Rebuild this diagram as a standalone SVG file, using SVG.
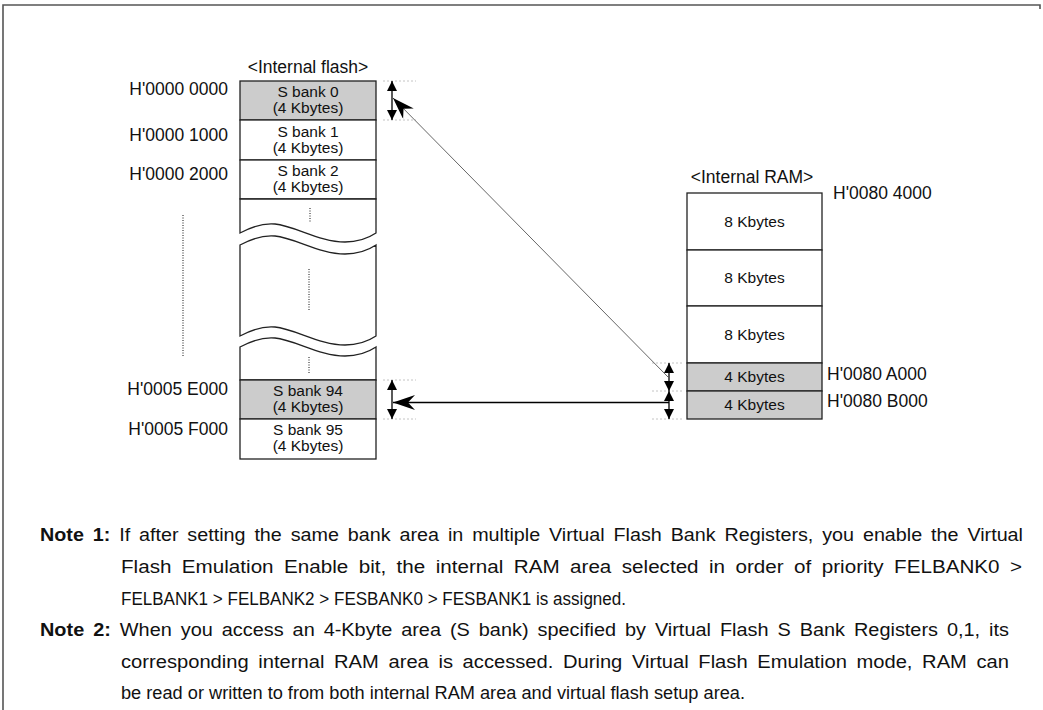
<svg xmlns="http://www.w3.org/2000/svg" width="1043" height="710" viewBox="0 0 1043 710">
<style>
  text { font-family: "Liberation Sans", Arial, sans-serif; fill: #111; }
  .lbl { font-size: 17.5px; }
  .box { font-size: 15.5px; text-anchor: middle; }
  .note { font-size: 17.5px; }
  .b { font-weight: bold; }
  .cell { stroke: #222; stroke-width: 1.3; fill: #fff; }
  .gray { fill: #cccccc; }
  .dots { stroke: #111; stroke-width: 1; stroke-dasharray: 1 1.5; fill: none; }
  .guide { stroke: #c4c4c4; stroke-width: 1; stroke-dasharray: 2 2; fill: none; }
  .dbl { stroke: #000; stroke-width: 1.3; fill: none; marker-start: url(#tri); marker-end: url(#tri); }
</style>
<defs>
  <marker id="tri" viewBox="0 0 10 10" refX="10" refY="5" markerWidth="10" markerHeight="10" markerUnits="userSpaceOnUse" orient="auto-start-reverse">
    <path d="M0,0 L10,5 L0,10 Z" fill="#000"/>
  </marker>
  <marker id="stealth" viewBox="0 0 22 15" refX="22" refY="7.5" markerWidth="22" markerHeight="15" markerUnits="userSpaceOnUse" orient="auto">
    <path d="M22,7.5 L0,0 L7,7.5 L0,15 Z" fill="#000"/>
  </marker>
</defs>

<path d="M3,710 V5 H1040 V9" fill="none" stroke="#555" stroke-width="1.6"/>

<g id="internal-flash">
  <text class="lbl" x="308" y="73" text-anchor="middle">&lt;Internal flash&gt;</text>
  <g id="s-bank-0">
    <rect class="cell gray" x="240" y="81" width="136" height="39"/>
    <text class="box" x="308" y="97">S bank 0</text>
    <text class="box" x="308" y="113">(4 Kbytes)</text>
    <text class="lbl" x="228" y="95" text-anchor="end">H'0000 0000</text>
  </g>
  <g id="s-bank-1">
    <rect class="cell" x="240" y="120" width="136" height="40"/>
    <text class="box" x="308" y="137">S bank 1</text>
    <text class="box" x="308" y="153">(4 Kbytes)</text>
    <text class="lbl" x="228" y="141" text-anchor="end">H'0000 1000</text>
  </g>
  <g id="s-bank-2">
    <rect class="cell" x="240" y="160" width="136" height="39"/>
    <text class="box" x="308" y="176">S bank 2</text>
    <text class="box" x="308" y="192">(4 Kbytes)</text>
    <text class="lbl" x="228" y="180" text-anchor="end">H'0000 2000</text>
  </g>
  <g id="flash-omitted">
    <path class="cell" d="M240,199 H376 V233 C370,237 360,242 345,242 C320,242 295,226 275,224 C265,223 255,225 240,233 Z"/>
    <path class="cell" d="M240,245 C255,237 265,235 275,236 C295,238 320,254 345,254 C360,254 370,249 376,245 V336 C370,340 360,345 345,345 C320,345 295,329 275,327 C265,326 255,328 240,336 Z"/>
    <path class="cell" d="M240,347 C255,339 265,337 275,338 C295,340 320,356 345,356 C360,356 370,351 376,347 V380 H240 Z"/>
    <line class="dots" x1="310" y1="208" x2="310" y2="222"/>
    <line class="dots" x1="309" y1="269" x2="309" y2="311"/>
    <line class="dots" x1="309" y1="357" x2="309" y2="373"/>
    <line class="dots" x1="183" y1="215" x2="183" y2="356"/>
  </g>
  <g id="s-bank-94">
    <rect class="cell gray" x="240" y="380" width="136" height="39"/>
    <text class="box" x="308" y="396">S bank 94</text>
    <text class="box" x="308" y="412">(4 Kbytes)</text>
    <text class="lbl" x="228" y="395" text-anchor="end">H'0005 E000</text>
  </g>
  <g id="s-bank-95">
    <rect class="cell" x="240" y="419" width="136" height="40"/>
    <text class="box" x="308" y="435">S bank 95</text>
    <text class="box" x="308" y="451">(4 Kbytes)</text>
    <text class="lbl" x="228" y="435" text-anchor="end">H'0005 F000</text>
  </g>
</g>

<g id="internal-ram">
  <text class="lbl" x="752" y="183" text-anchor="middle">&lt;Internal RAM&gt;</text>
  <g id="ram-8k-1">
    <rect class="cell" x="687" y="193" width="135" height="57"/>
    <text class="box" x="754.5" y="227">8 Kbytes</text>
    <text class="lbl" x="833" y="199">H'0080 4000</text>
  </g>
  <g id="ram-8k-2">
    <rect class="cell" x="687" y="250" width="135" height="56"/>
    <text class="box" x="754.5" y="283">8 Kbytes</text>
  </g>
  <g id="ram-8k-3">
    <rect class="cell" x="687" y="306" width="135" height="57"/>
    <text class="box" x="754.5" y="340">8 Kbytes</text>
  </g>
  <g id="ram-4k-a">
    <rect class="cell gray" x="687" y="363" width="135" height="28"/>
    <text class="box" x="754.5" y="382">4 Kbytes</text>
    <text class="lbl" x="827" y="380">H'0080 A000</text>
  </g>
  <g id="ram-4k-b">
    <rect class="cell gray" x="687" y="391" width="135" height="28"/>
    <text class="box" x="754.5" y="410">4 Kbytes</text>
    <text class="lbl" x="827" y="407">H'0080 B000</text>
  </g>
</g>

<g id="connectors">
  <line class="guide" x1="383" y1="81" x2="416" y2="81"/>
  <line class="guide" x1="383" y1="120" x2="416" y2="120"/>
  <line class="guide" x1="383" y1="380" x2="416" y2="380"/>
  <line class="guide" x1="383" y1="419" x2="416" y2="419"/>
  <line class="guide" x1="652" y1="363" x2="684" y2="363"/>
  <line class="guide" x1="652" y1="391" x2="684" y2="391"/>
  <line class="guide" x1="652" y1="419" x2="684" y2="419"/>
  <line class="dbl" x1="392" y1="81" x2="392" y2="120"/>
  <line class="dbl" x1="392" y1="380" x2="392" y2="419"/>
  <line class="dbl" x1="669" y1="363" x2="669" y2="391"/>
  <line class="dbl" x1="669" y1="391" x2="669" y2="419"/>
  <line x1="668" y1="377" x2="393" y2="98" stroke="#666" stroke-width="1" marker-end="url(#stealth)"/>
  <line x1="669" y1="402.5" x2="393" y2="402.5" stroke="#000" stroke-width="1.3" marker-end="url(#stealth)"/>
</g>

<g id="notes">
  <text class="note" x="40" y="541" word-spacing="3" textLength="983" lengthAdjust="spacingAndGlyphs"><tspan class="b">Note 1:</tspan> If after setting the same bank area in multiple Virtual Flash Bank Registers, you enable the Virtual</text>
  <text class="note" x="121" y="573" word-spacing="4" textLength="901" lengthAdjust="spacingAndGlyphs">Flash Emulation Enable bit, the internal RAM area selected in order of priority FELBANK0 &gt;</text>
  <text class="note" x="121" y="605" textLength="505" lengthAdjust="spacingAndGlyphs">FELBANK1 &gt; FELBANK2 &gt; FESBANK0 &gt; FESBANK1 is assigned.</text>
  <text class="note" x="40" y="636" word-spacing="3" textLength="969" lengthAdjust="spacingAndGlyphs"><tspan class="b">Note 2:</tspan> When you access an 4-Kbyte area (S bank) specified by Virtual Flash S Bank Registers 0,1, its</text>
  <text class="note" x="121" y="668" word-spacing="3.5" textLength="888" lengthAdjust="spacingAndGlyphs">corresponding internal RAM area is accessed. During Virtual Flash Emulation mode, RAM can</text>
  <text class="note" x="121" y="699" textLength="624" lengthAdjust="spacingAndGlyphs">be read or written to from both internal RAM area and virtual flash setup area.</text>
</g>
</svg>
